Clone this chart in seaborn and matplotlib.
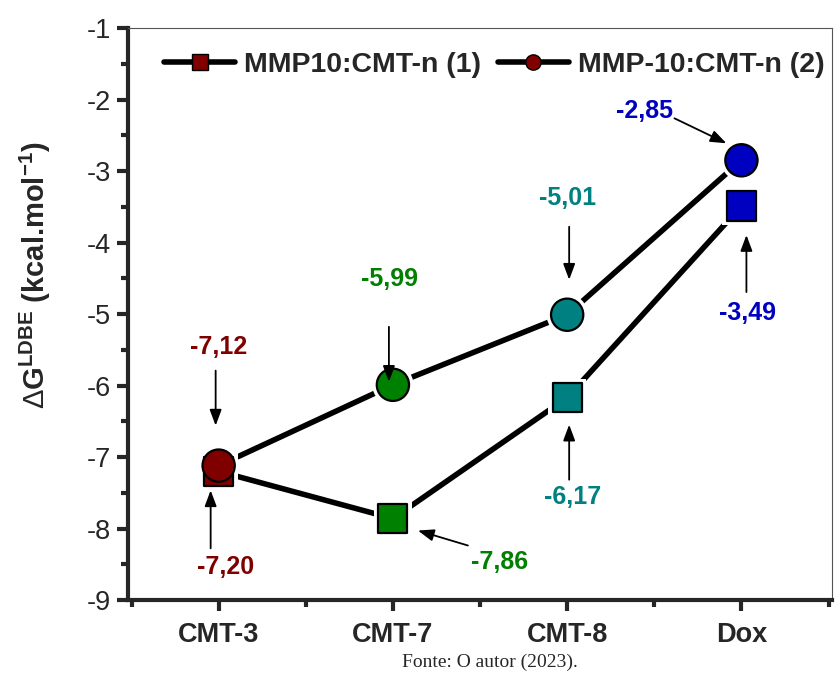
import pandas as pd
import numpy as np
import matplotlib
matplotlib.use("Agg")
import matplotlib.pyplot as plt
import seaborn as sns
from matplotlib.lines import Line2D
from matplotlib.transforms import offset_copy


categories = ["CMT-3", "CMT-7", "CMT-8", "Dox"]
dg_1 = [-7.20, -7.86, -6.17, -3.49]   # MMP10:CMT-n (1), squares
dg_2 = [-7.12, -5.99, -5.01, -2.85]   # MMP-10:CMT-n (2), circles
point_colors = ["#800000", "#008000", "#008080", "#0000C0"]
series_names = ["MMP10:CMT-n (1)", "MMP-10:CMT-n (2)"]

df = pd.DataFrame({"cat": categories, "s1": dg_1, "s2": dg_2})
df["x"] = np.arange(len(categories))
pal = dict(zip(categories, point_colors))

sns.set_style("ticks")
plt.rcParams["font.family"] = ["Liberation Sans", "DejaVu Sans"]
plt.rcParams["mathtext.fontset"] = "custom"
plt.rcParams["mathtext.rm"] = "Liberation Sans"
plt.rcParams["mathtext.bf"] = "Liberation Sans:bold"

fig = plt.figure(figsize=(8.39, 6.80), dpi=100)
ax = fig.add_axes([0.1526, 0.1176, 0.8391, 0.8412])

# lines
for col in ["s1", "s2"]:
    sns.lineplot(data=df, x="x", y=col, color="black", linewidth=4, ax=ax, zorder=2)

# white halos -> gap between line and marker
sns.scatterplot(data=df, x="x", y="s1", marker="s", s=760, color="white",
                edgecolor="none", ax=ax, zorder=3, legend=False)
sns.scatterplot(data=df, x="x", y="s2", marker="o", s=880, color="white",
                edgecolor="none", ax=ax, zorder=3, legend=False)

# coloured markers
sns.scatterplot(data=df, x="x", y="s1", hue="cat", palette=pal, marker="s", s=440,
                edgecolor="black", linewidth=1.6, ax=ax, zorder=4, legend=False)
sns.scatterplot(data=df, x="x", y="s2", hue="cat", palette=pal, marker="o", s=540,
                edgecolor="black", linewidth=1.6, ax=ax, zorder=5, legend=False)

# value labels: (series, index, text offset px, arrow start px, arrow end px)
notes = [
    ("s2", 0, (0, 119), (-3, 95), (-3, 40)),
    ("s1", 0, (7, -96), (-8, -77), (-8, -19)),
    ("s2", 1, (-3, 106), (-4, 58), (-4, 3)),
    ("s1", 1, (107, -43), (75, -27), (25, -12)),
    ("s2", 2, (0, 117), (2, 88), (2, 35)),
    ("s1", 2, (5, -99), (2, -82), (2, -27)),
    ("s2", 3, (-97, 49), (-67, 42), (-15, 17)),
    ("s1", 3, (6, -107), (5, -86), (5, -29)),
]
for col, i, toff, a0, a1 in notes:
    v = df[col].iloc[i]
    lab = f"{v:.2f}".replace(".", ",")
    ax.annotate(lab, xy=(i, v), xytext=toff, textcoords="offset pixels",
                ha="center", va="center", fontsize=18, fontweight="bold",
                color=point_colors[i], zorder=6)
    tr_end = offset_copy(ax.transData, fig=fig, x=a1[0], y=a1[1], units="dots")
    tr_start = offset_copy(ax.transData, fig=fig, x=a0[0], y=a0[1], units="dots")
    ax.annotate("", xy=(i, v), xycoords=tr_end, xytext=(i, v), textcoords=tr_start,
                zorder=6,
                arrowprops=dict(arrowstyle="-|>,head_width=0.3,head_length=0.8",
                                color="black", lw=1.3,
                                mutation_scale=12, shrinkA=0, shrinkB=0))

ax.set_xlim(-0.52, 3.52)
ax.set_ylim(-9, -1)
ax.set_xticks(df["x"])
ax.set_xticklabels(categories, fontsize=19.5, fontweight="bold")
ax.set_xticks([-0.5, 0.5, 1.5, 2.5, 3.5], minor=True)
ax.set_yticks(np.arange(-9, 0, 1))
ax.set_yticklabels([str(v) for v in range(-9, 0)], fontsize=19.5)
ax.set_yticks(np.arange(-8.5, -1, 1), minor=True)
ax.set_xlabel("")
ax.set_ylabel(r"$\Delta$G$^{\mathbf{LDBE}}$ (kcal.mol$^{\mathbf{-1}}$)",
              fontsize=21, fontweight="bold")
ax.yaxis.set_label_coords(-0.106, 0.568)

for s in ["left", "bottom"]:
    ax.spines[s].set_linewidth(3)
for s in ["top", "right"]:
    ax.spines[s].set_linewidth(0.8)
    ax.spines[s].set_color("#555555")
ax.tick_params(which="major", direction="out", length=8, width=3, pad=4)
ax.tick_params(axis="x", which="major", pad=8)
ax.tick_params(which="minor", direction="out", length=5, width=3)

handles = [
    Line2D([], [], color="black", lw=4, marker="s", markersize=11,
           markerfacecolor="#800000", markeredgecolor="black"),
    Line2D([], [], color="black", lw=4, marker="o", markersize=11,
           markerfacecolor="#800000", markeredgecolor="black"),
]
ax.legend(handles, series_names, loc="upper center", ncol=2, frameon=False,
          prop={"weight": "bold", "size": 20.5}, handlelength=2.5,
          columnspacing=0.6, handletextpad=0.3, bbox_to_anchor=(0.52, 1.0),
          borderaxespad=0.45)

fig.text(0.584, 0.026, "Fonte: O autor (2023).", ha="center", va="center",
         fontsize=14, family=["Liberation Serif", "DejaVu Serif"])

fig.savefig("out.png", dpi=100)
